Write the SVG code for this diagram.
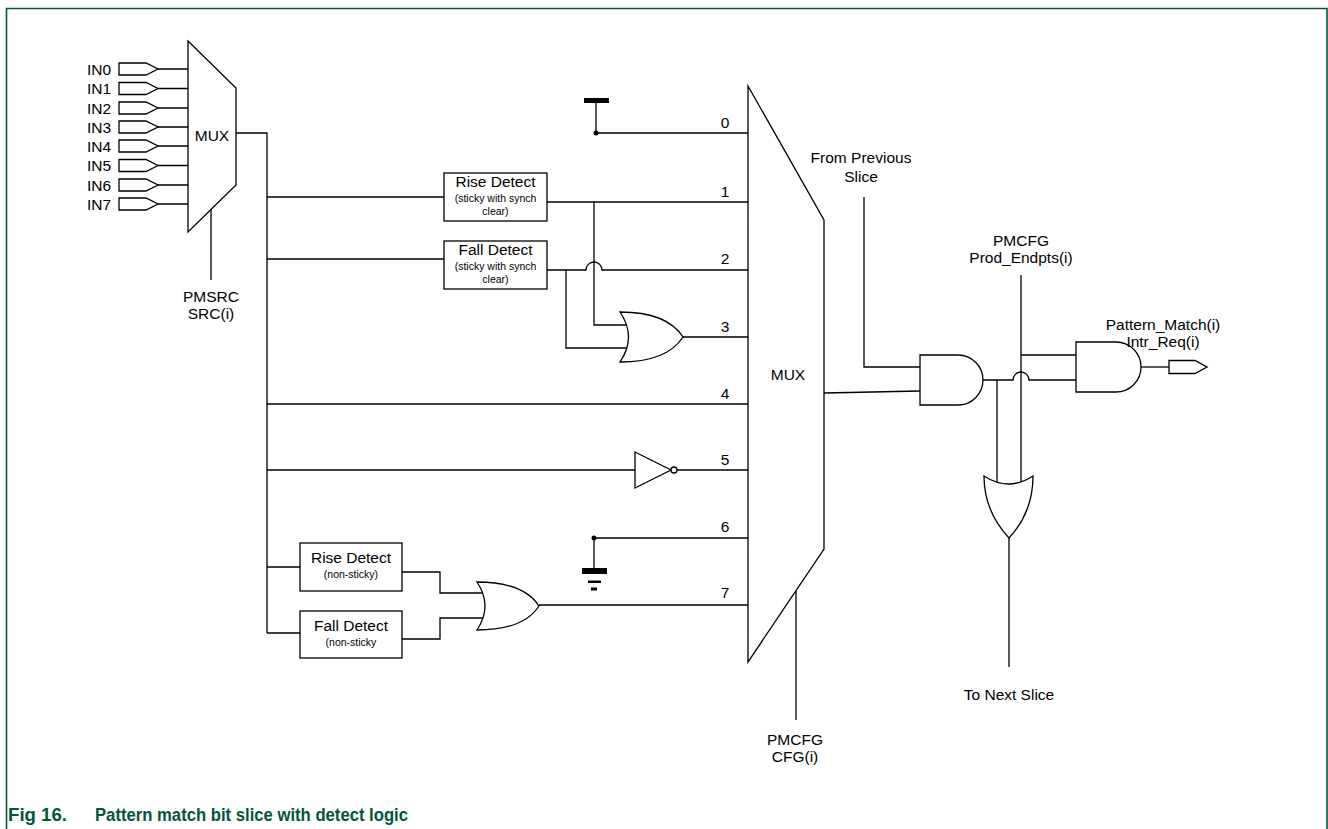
<svg xmlns="http://www.w3.org/2000/svg" width="1328" height="829" viewBox="0 0 1328 829">
<style>
  .w { fill: none; stroke: #000; stroke-width: 1.3; }
  .g { fill: #fff; stroke: #000; stroke-width: 1.3; }
  .t { font-family: "Liberation Sans", Arial, sans-serif; font-size: 15.5px; fill: #000; }
  .m { text-anchor: middle; }
  .bx { font-family: "Liberation Sans", Arial, sans-serif; font-size: 15.5px; fill: #000; text-anchor: middle; }
  .sm { font-family: "Liberation Sans", Arial, sans-serif; font-size: 10.5px; fill: #000; text-anchor: middle; }
  .cap { font-family: "Liberation Sans", Arial, sans-serif; font-size: 17.5px; font-weight: bold; fill: #00573d; }
  .dot { fill: #000; }
</style>
<rect x="0" y="0" width="1328" height="829" fill="#fff"/>
<path d="M6.5,829 V8.5 H1327 V829" fill="none" stroke="#00573d" stroke-width="1.6"/>

<g id="connectors">
  <path class="w" d="M158,69 H188 M158,88.5 H188 M158,108 H188 M158,127 H188 M158,146 H188 M158,165.5 H188 M158,185 H188 M158,204 H188"/>
  <path class="w" d="M211,209 V280"/>
  <path class="w" d="M236,133 H267 V633"/>
  <path class="w" d="M267,197 H444"/>
  <path class="w" d="M267,259 H444"/>
  <path class="w" d="M267,404 H748"/>
  <path class="w" d="M267,470 H635"/>
  <path class="w" d="M267,567 H300"/>
  <path class="w" d="M267,633 H300"/>
  <path class="w" d="M596,103 V133 H748"/>
  <circle class="dot" cx="596" cy="133" r="2.5"/>
  <path class="w" d="M547,202 H748"/>
  <path class="w" d="M594,202 V325 H627"/>
  <path class="w" d="M547,270 H586 A8,8 0 0 1 602,270 H748"/>
  <path class="w" d="M566,270 V348 H627"/>
  <path class="w" d="M683,337 H748"/>
  <path class="w" d="M677,470 H748"/>
  <path class="w" d="M594,538 H748 M594,538 V569"/>
  <circle class="dot" cx="594" cy="538" r="2.5"/>
  <path class="w" d="M402,572 H440 V593 H483"/>
  <path class="w" d="M402,639 H440 V618 H483"/>
  <path class="w" d="M539,605 H748"/>
  <path class="w" d="M796,591 V720"/>
  <path class="w" d="M824,393 L920,391"/>
  <path class="w" d="M864,197 V367 H920"/>
  <path class="w" d="M983,380 H1013 A8,8 0 0 1 1029,380 H1076"/>
  <path class="w" d="M997,380 V482"/>
  <path class="w" d="M1021,275 V482"/>
  <path class="w" d="M1021,355 H1076"/>
  <path class="w" d="M1141,367 H1169"/>
  <path class="w" d="M1009,538 V667"/>
</g>

<g id="inputs">
  <g class="g">
    <path d="M119,63 H146 L158,69 L146,75 H119 Z"/>
    <path d="M119,82.5 H146 L158,88.5 L146,94.5 H119 Z"/>
    <path d="M119,102 H146 L158,108 L146,114 H119 Z"/>
    <path d="M119,121 H146 L158,127 L146,133 H119 Z"/>
    <path d="M119,140 H146 L158,146 L146,152 H119 Z"/>
    <path d="M119,159.5 H146 L158,165.5 L146,171.5 H119 Z"/>
    <path d="M119,179 H146 L158,185 L146,191 H119 Z"/>
    <path d="M119,198 H146 L158,204 L146,210 H119 Z"/>
  </g>
  <text class="t" x="87" y="74.5">IN0</text>
  <text class="t" x="87" y="94">IN1</text>
  <text class="t" x="87" y="113.5">IN2</text>
  <text class="t" x="87" y="132.5">IN3</text>
  <text class="t" x="87" y="151.5">IN4</text>
  <text class="t" x="87" y="171">IN5</text>
  <text class="t" x="87" y="190.5">IN6</text>
  <text class="t" x="87" y="209.5">IN7</text>
</g>

<g id="mux1">
  <polygon class="g" points="188,41 236,88 236,185 188,232"/>
  <text class="t m" x="212" y="141">MUX</text>
  <text class="t m" x="211" y="302">PMSRC</text>
  <text class="t m" x="211" y="319">SRC(i)</text>
</g>

<g id="rise-sticky">
  <rect class="g" x="444" y="173" width="103" height="48"/>
  <text class="bx" x="495.5" y="187">Rise Detect</text>
  <text class="sm" x="495.5" y="202">(sticky with synch</text>
  <text class="sm" x="495.5" y="214.5">clear)</text>
</g>

<g id="fall-sticky">
  <rect class="g" x="444" y="241" width="103" height="48"/>
  <text class="bx" x="495.5" y="255">Fall Detect</text>
  <text class="sm" x="495.5" y="270">(sticky with synch</text>
  <text class="sm" x="495.5" y="282.5">clear)</text>
</g>

<g id="or-sticky">
  <path class="g" d="M620,312 C650,312 672,320 683,337 C672,354 650,362 620,362 Q637,337 620,312 Z"/>
</g>

<g id="vcc">
  <rect x="584" y="98" width="25" height="5" fill="#000"/>
</g>

<g id="inverter">
  <path class="g" d="M635,452 L671,470 L635,488 Z"/>
  <circle class="g" cx="674" cy="470" r="3"/>
</g>

<g id="gnd">
  <rect x="582" y="568" width="25" height="6" fill="#000"/>
  <rect x="588" y="580.5" width="13" height="2.5" fill="#000"/>
  <rect x="591" y="587.5" width="6" height="3" fill="#000"/>
</g>

<g id="rise-nonsticky">
  <rect class="g" x="300" y="543" width="102" height="48"/>
  <text class="bx" x="351" y="563">Rise Detect</text>
  <text class="sm" x="351" y="578">(non-sticky)</text>
</g>

<g id="fall-nonsticky">
  <rect class="g" x="300" y="611" width="102" height="47"/>
  <text class="bx" x="351" y="631">Fall Detect</text>
  <text class="sm" x="351" y="646">(non-sticky</text>
</g>

<g id="or-nonsticky">
  <path class="g" d="M477,582 C505,582 528,589 539,606 C528,623 505,630 477,630 Q493,606 477,582 Z"/>
</g>

<g id="mux2">
  <polygon class="g" points="748,86 824,220 824,549 748,662"/>
  <text class="t m" x="788" y="380">MUX</text>
  <text class="t m" x="725" y="128">0</text>
  <text class="t m" x="725" y="197">1</text>
  <text class="t m" x="725" y="264">2</text>
  <text class="t m" x="725" y="332">3</text>
  <text class="t m" x="725" y="399">4</text>
  <text class="t m" x="725" y="465">5</text>
  <text class="t m" x="725" y="532">6</text>
  <text class="t m" x="725" y="598">7</text>
  <text class="t m" x="795" y="745">PMCFG</text>
  <text class="t m" x="795" y="762">CFG(i)</text>
</g>

<g id="from-prev">
  <text class="t m" x="861" y="163">From Previous</text>
  <text class="t m" x="861" y="182">Slice</text>
</g>

<g id="and1">
  <path class="g" d="M920,355 H958 A25,25 0 0 1 958,405 H920 Z"/>
</g>

<g id="prod-endpts">
  <text class="t m" x="1021" y="245.5">PMCFG</text>
  <text class="t m" x="1021" y="263">Prod_Endpts(i)</text>
</g>

<g id="and2">
  <path class="g" d="M1076,342 H1116 A25,25 0 0 1 1116,392 H1076 Z"/>
</g>

<g id="out">
  <path class="g" d="M1169,360.5 H1195 L1207,367 L1195,373.5 H1169 Z"/>
  <text class="t m" x="1163" y="330">Pattern_Match(i)</text>
  <text class="t m" x="1163" y="347">Intr_Req(i)</text>
</g>

<g id="or-next">
  <path class="g" d="M984,476 Q1008.5,492 1033,476 C1033,505 1022,524 1009,538 C996,524 984,505 984,476 Z"/>
  <text class="t m" x="1009" y="700">To Next Slice</text>
</g>

<g id="caption">
  <text class="cap" x="8" y="821" textLength="59" lengthAdjust="spacingAndGlyphs">Fig 16.</text>
  <text class="cap" x="95" y="821" textLength="313" lengthAdjust="spacingAndGlyphs">Pattern match bit slice with detect logic</text>
</g>
</svg>
